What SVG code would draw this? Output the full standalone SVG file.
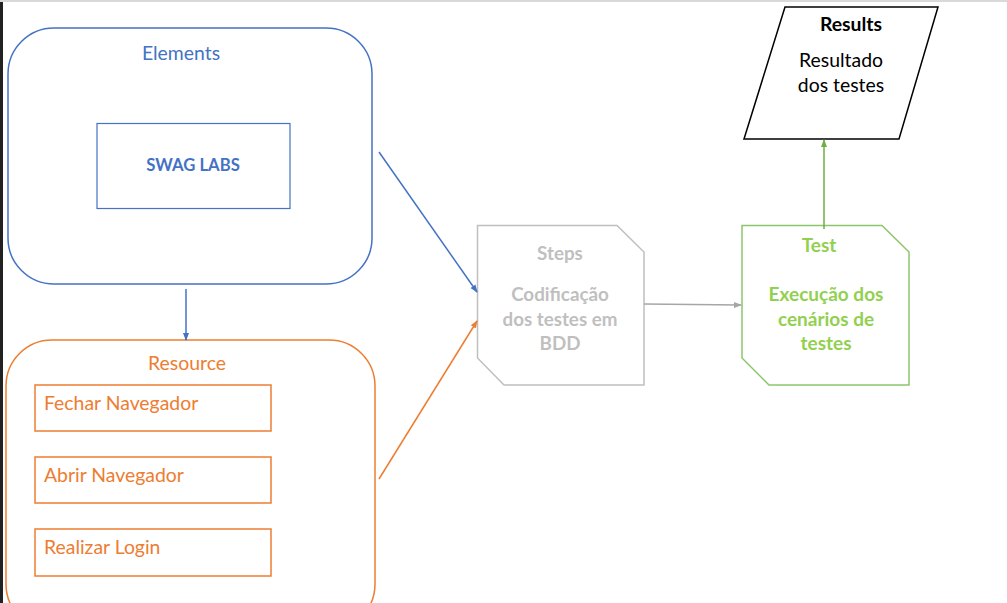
<svg xmlns="http://www.w3.org/2000/svg" width="1007" height="603" viewBox="0 0 1007 603">
<defs>
<style>
text{font-family:Lato,"Open Sans","Liberation Sans",sans-serif;}
.blue{fill:none;stroke:#4472C4;stroke-width:1.5}
.orange{fill:none;stroke:#ED7D31;stroke-width:1.5}
.tb{fill:#4472C4;font-size:19.4px;text-anchor:middle}
.to{fill:#ED7D31;font-size:19.4px}
.tg{fill:#BFBFBF;font-size:18.8px;font-weight:bold;text-anchor:middle}
.tgr{fill:#92D050;font-size:19px;font-weight:bold;text-anchor:middle}
.tk{fill:#000;font-size:19.4px;text-anchor:middle}
</style>
<marker id="ab" markerWidth="8" markerHeight="8" refX="7" refY="4" orient="auto" markerUnits="userSpaceOnUse"><path d="M0,1 L8,4 L0,7 z" fill="#4472C4"/></marker>
<marker id="ao" markerWidth="8" markerHeight="8" refX="7" refY="4" orient="auto" markerUnits="userSpaceOnUse"><path d="M0,1 L8,4 L0,7 z" fill="#ED7D31"/></marker>
<marker id="ag" markerWidth="8" markerHeight="8" refX="7" refY="4" orient="auto" markerUnits="userSpaceOnUse"><path d="M0,1 L8,4 L0,7 z" fill="#A6A6A6"/></marker>
<marker id="agr" markerWidth="8" markerHeight="8" refX="7" refY="4" orient="auto" markerUnits="userSpaceOnUse"><path d="M0,1 L8,4 L0,7 z" fill="#70AD47"/></marker>
</defs>
<rect x="0" y="0" width="1007" height="603" fill="#fff"/>
<rect x="0" y="0" width="1007" height="2" fill="#D9D9D9"/>
<rect x="0" y="2" width="3" height="601" fill="#222"/>

<g id="elements">
<rect class="blue" x="8" y="28" width="364" height="256" rx="46"/>
<text class="tb" x="181" y="60">Elements</text>
</g>
<g id="swaglabs">
<rect class="blue" x="97" y="123.5" width="193" height="85" style="stroke-width:1.2"/>
<text class="tb" x="193" y="171" style="font-weight:bold;font-size:16.7px">SWAG LABS</text>
</g>

<g id="resource">
<rect class="orange" x="6" y="340" width="369" height="290" rx="46"/>
<text class="to" x="187" y="370" text-anchor="middle">Resource</text>
</g>
<g id="fechar">
<rect class="orange" x="35" y="385" width="236" height="46"/>
<text class="to" x="44" y="410">Fechar Navegador</text>
</g>
<g id="abrir">
<rect class="orange" x="35" y="457" width="236" height="46"/>
<text class="to" x="44" y="482">Abrir Navegador</text>
</g>
<g id="login">
<rect class="orange" x="35" y="529" width="236" height="47"/>
<text class="to" x="44" y="554">Realizar Login</text>
</g>

<g id="steps">
<path d="M477.5,225.5 H617 L644,252 V385 H504 L477.5,358 Z" fill="#fff" stroke="#BFBFBF" stroke-width="1.5"/>
<text class="tg" x="560" y="260">Steps</text>
<text class="tg" x="560" y="301">Codificação</text>
<text class="tg" x="560" y="326">dos testes em</text>
<text class="tg" x="560" y="350">BDD</text>
</g>

<g id="test">
<path d="M742,225.5 H882 L909,252 V385 H769 L742,358 Z" fill="#fff" stroke="#8BC66A" stroke-width="1.5"/>
<text class="tgr" x="819" y="252">Test</text>
<text class="tgr" x="826" y="301">Execução dos</text>
<text class="tgr" x="826" y="326">cenários de</text>
<text class="tgr" x="826" y="350">testes</text>
</g>

<g id="results">
<path d="M785,7 H938 L899,139 H744 Z" fill="#fff" stroke="#000" stroke-width="1.5"/>
<text class="tk" x="851" y="31" style="font-weight:bold">Results</text>
<text class="tk" x="841" y="67">Resultado</text>
<text class="tk" x="841" y="92">dos testes</text>
</g>

<g id="connectors">
<line x1="186" y1="289" x2="186" y2="340" stroke="#4472C4" stroke-width="1.5" marker-end="url(#ab)"/>
<line x1="379" y1="152" x2="477" y2="292" stroke="#4472C4" stroke-width="1.5" marker-end="url(#ab)"/>
<line x1="379" y1="479" x2="477" y2="321" stroke="#ED7D31" stroke-width="1.5" marker-end="url(#ao)"/>
<line x1="644" y1="304" x2="741" y2="305" stroke="#A6A6A6" stroke-width="1.5" marker-end="url(#ag)"/>
<line x1="824" y1="229" x2="824" y2="140" stroke="#70AD47" stroke-width="1.5" marker-end="url(#agr)"/>
</g>
</svg>
